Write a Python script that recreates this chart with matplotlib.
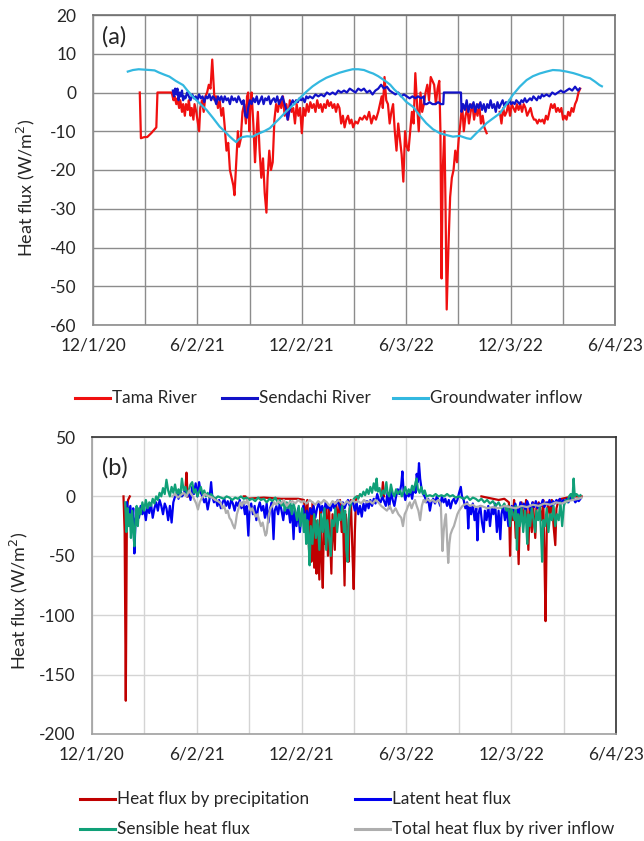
import numpy as np
import matplotlib
matplotlib.use("Agg")
import matplotlib.pyplot as plt
import matplotlib.dates as mdates
from matplotlib.lines import Line2D

plt.rcParams['font.family'] = ['Lato', 'DejaVu Sans']
plt.rcParams['axes.unicode_minus'] = False

nan = np.nan

# ---------------------------------------------------------------
# Data: days counted from 1 Dec 2020, heat flux in W/m2
# ---------------------------------------------------------------
START = np.datetime64('2020-12-01')

# (a) heat flux by river / groundwater inflow
tama_days = [82, 84, 90, 95, 102, 108, 111, 113, 138, 141, 143, 146, 148, 151, 153, 156, 158, 161, 163, 166,
             168, 171, 173, 176, 178, 181, 184, 186, 188, 191, 194, 197, 200, 203, 206, 209, 211, 213, 216, 219,
             222, 225, 228, 231, 234, 237, 240, 243, 246, 248, 251, 254, 256, 259, 262, 265, 268, 270, 272, 274,
             276, 278, 281, 284, 286, 289, 292, 295, 298, 301, 304, 306, 309, 312, 315, 318, 321, 324, 327, 330,
             333, 336, 339, 342, 345, 348, 351, 354, 357, 360, 363, 366, 369, 372, 375, 378, 381, 384, 387, 390,
             393, 396, 399, 402, 405, 408, 411, 414, 417, 420, 423, 426, 429, 432, 435, 438, 441, 444, 447, 450,
             453, 456, 460, 464, 468, 472, 476, 480, 484, 488, 492, 496, 500, 503, 506, 508, 511, 514, 517, 520,
             523, 526, 529, 532, 535, 538, 541, 544, 547, 550, 553, 556, 559, 562, 565, 568, 571, 574, 577, 580,
             583, 586, 589, 592, 595, 598, 601, 604, 607, 609, 611, 613, 616, 618, 620, 623, 626, 629, 632, 635,
             638, 641, 644, 647, 650, 653, 656, 659, 662, 665, 668, 671, 674, 677, 680, 683, 686, 690, 692, 713,
             716, 719, 722, 725, 728, 731, 734, 737, 740, 743, 746, 749, 752, 755, 758, 761, 764, 767, 770, 773,
             776, 779, 782, 785, 788, 791, 794, 797, 800, 803, 806, 809, 812, 815, 818, 821, 824, 827, 830, 833,
             836, 839, 842, 845, 848, 851, 854]
tama_flux = [0, -11.8, -11.5, -11.5, -10.5, -9.5, -9, 0, 0, -2, -1, -3, -1.5, -4, -2, -5, -3, -6, -3, -4.5,
             -2, -6, -4, -7, -3, -5, -8, -10, -4, -2, -5, -1, 0, 2, 1, 8.5, 3, -2, -1, -4,
             -2, -6, -4, -9, -15, -13, -20, -22, -24, -26.5, -18, -10, -14, -12, -5, -3, -8, -1, 0, -10,
             -3, 0, -8, -18, -12, -5, -15, -22, -17, -26, -31, -22, -15, -20, -18, -7, -3, -5, -2, -4,
             -1, -6, -3, -7, -2, -5, -4, -8, -3, -6, -4, -10.5, -4, -6, -3, -5, -2.5, -4, -3, -5,
             -2, -4, -3, -5, -3, -4, -2, -3.5, -2.5, -4, -3, -5, -3, -4, -8, -6, -9, -7, -6, -8,
             -7, -9, -7.5, -8, -6.5, -7, -6, -7, -5, -8, -6, -7, -5, -3, -1, -4, 4, -2, -3, -8,
             -5, -3, -10, -15, -8, -12, -16, -23, -10, -14, -15, -10, -5, -8, 5, -3, -10, 0, -5, -3,
             0, 2, -2, 4, 3, 2, -3, 1, 3, -10, -48, -20, -10, -30, -56, -40, -27, -22, -20, -15,
             -18, -12, -8, -3, -10, -6, -4, -8, -5, -3, -7, -4, -6, -3, -8, -6, -9, -10.5, nan, -5,
             -8, -4, -6, -5, -3, -6, -3, -4, -5, -3, -4.5, -3, -5, -3, -4, -6, -5, -4, -6, -7,
             -7, -8, -7, -7.5, -7, -8, -6, -7, -5, -3, -4, -3, -5, -4, -5, -4, -7, -6, -7, -5,
             -6, -4, -5, -3, -2, 0, 1]

sendachi_days = [140, 142, 144, 146, 148, 150, 152, 154, 156, 158, 160, 162, 165, 168, 171, 174, 177, 180, 183, 186,
                 189, 192, 195, 198, 201, 204, 207, 210, 213, 216, 219, 222, 225, 228, 231, 234, 237, 240, 243, 246,
                 249, 252, 255, 258, 261, 264, 267, 270, 272, 275, 278, 281, 284, 287, 290, 293, 296, 299, 302, 305,
                 308, 311, 314, 317, 320, 323, 326, 329, 332, 335, 338, 341, 344, 347, 350, 353, 356, 359, 362, 365,
                 368, 371, 374, 377, 380, 385, 390, 395, 400, 405, 410, 415, 420, 425, 430, 435, 440, 445, 450, 455,
                 460, 465, 470, 475, 480, 485, 490, 495, 500, 505, 510, 515, 520, 525, 530, 535, 540, 545, 550, 555,
                 560, 565, 570, 575, 580, 581, 585, 590, 595, 600, 605, 610, 614, 615, 645, 646, 649, 652, 655, 658,
                 661, 664, 667, 670, 673, 676, 679, 682, 685, 688, 691, 694, 697, 700, 703, 706, 709, 712, 715, 718,
                 721, 724, 727, 730, 733, 736, 739, 742, 745, 748, 751, 754, 757, 760, 763, 766, 769, 772, 775, 778,
                 781, 784, 787, 790, 795, 800, 805, 810, 815, 820, 825, 830, 835, 840, 845, 850, 853]
sendachi_flux = [0.5, -1, 1, -0.5, 1, -2, 0, -1, 0.5, -2, -1, -1.5, 0, -1, -2, -0.5, -1.5, -1, -2, -0.5,
                 -1.5, -1, -2.5, -1, -1.5, -0.5, -2, -1, -1.5, -3, -1, -2, -1, -2.5, -1, -2, -1.5, -3, -1, -2,
                 -1.5, -2.5, -1, -2, -3, -2, -6, -6.5, -4, -2, -3, -1.5, -2.5, -1, -3, -2, -1, -3, -1.5, -2,
                 -1, -3, -2, -1.5, -2.5, -1, -3, -2, -1, -2.5, -4, -7, -5, -3, -2, -3, -2, -2.5, -1.5, -2,
                 -1.5, -2.5, -1, -1.5, -1, -1.5, -0.5, -1, -0.5, -1, 0, -0.5, 0, -0.5, 0.5, 0, 0.5, 0, 1, 0.5,
                 0, 1, 0.5, 1, 0, 0.5, -0.5, 0.5, 1, 2, 1, 1.5, 0.5, 0, -0.5, 0, -1, -0.5, -1, -1.5,
                 -1, -1.5, -1, -1.5, -1, -3, -3, -2.5, -3, -3, -2.5, -3, -3, 0, 0, -5, -3, -4.5, -2, -5,
                 -3, -4, -2.5, -5, -3, -4, -2.5, -4.5, -3, -5, -3, -4, -2, -4, -3, -5, -2.5, -4, -3, -2,
                 -3.5, -2.5, -3, -2, -3, -2.5, -3, -2, -2.5, -3, -2, -2.5, -1.5, -2.5, -2, -1.5, -2, -1, -1.5, -2,
                 -1, -1.5, -0.5, -1, -0.5, -1, 0, -0.5, 0, 0.5, 0, 0.5, 1, 0.5, 1.5, 0.5, 1]

groundwater_days = [61, 70, 80, 90, 100, 108, 115, 125, 134, 145, 158, 165, 175, 187, 199, 210, 222, 232, 240, 246,
                    251, 256, 262, 270, 280, 287, 292, 300, 310, 318, 327, 340, 351, 362, 374, 385, 397, 409, 421, 432,
                    444, 455, 465, 475, 485, 491, 500, 507, 514, 521, 528, 538, 549, 561, 572, 584, 596, 608, 620, 631,
                    643, 655, 662, 672, 681, 690, 700, 713, 725, 736, 748, 760, 771, 783, 795, 806, 818, 830, 842, 853,
                    862, 871, 880, 888, 892]
groundwater_flux = [5.4, 5.8, 6.0, 5.9, 5.8, 5.7, 5.2, 4.6, 4.1, 3.0, 1.9, 0.6, -1.1, -2.8, -4.5, -6.5, -8.8, -10.2, -11.4, -12.2,
                    -12.8, -12.0, -11.5, -11.3, -11.4, -10.8, -10.5, -10.0, -9.2, -8.0, -6.7, -4.7, -3.2, -1.5, 0.2, 1.6, 2.8, 3.8, 4.5, 5.1,
                    5.6, 6.0, 6.0, 5.8, 5.2, 4.9, 4.2, 3.5, 2.8, 2.0, 0.8, -0.6, -2.4, -3.7, -5.8, -7.9, -9.5, -10.5, -11.0, -11.4,
                    -11.2, -11.8, -12.0, -10.5, -9.2, -7.9, -6.8, -5.4, -3.0, -0.6, 1.5, 3.2, 4.2, 4.9, 5.4, 5.8, 5.7, 5.4, 5.0, 4.5,
                    4.0, 3.7, 2.8, 1.9, 1.6]

# (b) components of the surface heat budget (NaN = no precipitation record)
precip_days = [55, 57, 59, 61, 63, 66, 67, 160, 163, 165, 167, 168, 262, 265, 268, 270, 300, 330, 360, 370,
               374, 376, 379, 381, 383, 385, 388, 390, 392, 394, 397, 399, 401, 403, 405, 407, 409, 412, 414, 418,
               420, 424, 426, 430, 433, 436, 438, 441, 443, 446, 448, 450, 452, 455, 457, 459, 461, 463, 466, 467,
               505, 506, 508, 510, 511, 678, 680, 690, 700, 710, 720, 728, 730, 732, 735, 737, 740, 742, 745, 747,
               750, 755, 758, 762, 764, 768, 770, 774, 776, 780, 785, 788, 790, 792, 794, 796, 800, 803, 806, 809,
               811, 815, 820, 830, 840, 855]
precip_flux = [0, -30, -172, -10, -3, 0, nan, nan, 5, 20, 0, nan, nan, 0, 0, -2, -1, -2, -2, -3,
               -20, -3, -45, -10, -55, -5, -60, -20, -65, -30, -70, -10, -50, -77, -20, -40, -5, -50, -10, -65,
               -15, -45, -5, -20, -3, -30, -10, -75, -15, -30, -55, -10, -3, -50, -78, -30, -3, 0, 0, nan,
               nan, 0, 12, 0, nan, nan, 0, -1, -2, -3, -2, -5, -50, -10, -20, -3, -35, -10, -57, -15,
               -5, -20, -3, -45, -10, -30, -5, -35, -10, -5, -20, -3, -50, -105, -30, -5, -15, -3, -25, -41,
               -10, -3, -2, -1, 0, 0]

latent_days = [61, 64, 67, 70, 72, 74, 76, 79, 82, 85, 88, 91, 94, 97, 100, 103, 106, 109, 112, 115,
               118, 121, 124, 127, 130, 133, 136, 139, 142, 145, 148, 151, 154, 157, 160, 163, 166, 169, 172, 175,
               178, 181, 184, 187, 190, 193, 196, 199, 202, 205, 208, 210, 213, 216, 219, 222, 225, 228, 231, 234,
               237, 240, 243, 246, 249, 252, 255, 258, 261, 264, 267, 270, 273, 275, 278, 281, 284, 287, 290, 293,
               296, 299, 302, 305, 308, 311, 314, 317, 319, 322, 325, 328, 331, 334, 337, 340, 343, 346, 349, 352,
               354, 357, 360, 363, 366, 369, 372, 375, 378, 381, 384, 387, 390, 393, 396, 399, 402, 405, 408, 411,
               414, 417, 420, 423, 426, 429, 432, 435, 438, 441, 444, 447, 450, 453, 456, 459, 462, 465, 468, 471,
               474, 477, 480, 483, 486, 489, 492, 495, 498, 501, 504, 507, 510, 513, 516, 519, 522, 525, 528, 531,
               534, 537, 540, 542, 544, 547, 550, 553, 556, 559, 562, 565, 567, 569, 571, 573, 575, 578, 581, 584,
               587, 590, 593, 596, 599, 602, 605, 608, 611, 614, 617, 620, 623, 626, 629, 632, 635, 638, 641, 644,
               646, 649, 652, 655, 657, 659, 662, 665, 668, 671, 673, 675, 678, 681, 684, 686, 689, 692, 695, 698,
               701, 704, 707, 710, 713, 715, 718, 721, 724, 727, 730, 733, 736, 739, 742, 745, 748, 751, 754, 757,
               760, 763, 766, 769, 772, 775, 778, 781, 784, 787, 790, 793, 796, 799, 802, 805, 808, 811, 814, 817,
               820, 823, 826, 829, 832, 835, 838, 841, 844, 847, 850, 853]
latent_flux = [-5, -15, -8, -25, -10, -48, -20, -12, -18, -8, -15, -10, -20, -8, -14, -6, -18, -10, -5, -12,
               -3, -8, -15, -6, -10, -20, -8, -22, -5, 0, 3, -2, 5, 0, 2, 7, 0, 4, -3, 8,
               2, 11, 0, 12, 3, 0, -5, -2, -11, -3, 12, 0, -5, -2, -8, -3, -10, -5, -2, -8,
               -4, -10, -3, -6, -12, -5, -8, -3, -10, -5, -15, -8, -33, -12, -6, -15, -8, -20, -10, -5,
               -12, -8, -18, -6, -22, -10, -5, -36, -12, -8, -15, -5, -12, -20, -8, -15, -10, -22, -8, -36,
               -12, -25, -10, -30, -15, -8, -25, -12, -20, -10, -15, -8, -18, -10, -5, -12, -8, -15, -5, -10,
               -8, -12, -5, -10, -7, -3, -8, -12, -5, -10, -6, -3, -8, -4, -6, -12, -5, -15, -8, -17,
               -6, -12, -4, -10, -3, -8, -2, -6, 2, -3, -5, 0, -4, -8, 3, -10, 5, -3, -8, 0,
               6, 2, 10, 21, 5, -3, 3, 0, 5, -2, 8, 3, 19, 12, 28, 15, 8, 2, 0, -5,
               -2, -12, -4, -2, -6, 0, -3, -8, 0, -5, -2, -8, -3, -10, -4, -2, -6, -3, 3, 8,
               0, -3, -10, -5, -27, -8, -15, -6, -20, -10, -37, -15, -8, -22, -30, -12, -20, -8, -25, -10,
               -15, -6, -30, -12, -36, -15, -8, -20, -10, -25, -20, -8, -12, -6, -10, -15, -5, -10, -6, -12,
               -4, -8, -12, -5, -9, -4, -10, -6, -8, -3, -9, -5, -7, -3, -8, -4, -6, -3, -5, -2,
               -6, -3, -4, -2, -5, -1, -3, -2, -5, -3, -4, -2]

sensible_days = [58, 60, 62, 64, 66, 68, 70, 72, 74, 76, 78, 80, 82, 85, 88, 91, 94, 97, 100, 103,
                 106, 109, 112, 115, 118, 121, 124, 127, 130, 133, 136, 139, 142, 145, 148, 151, 154, 157, 160, 163,
                 166, 169, 172, 175, 178, 181, 184, 187, 190, 193, 196, 199, 202, 205, 208, 211, 215, 220, 225, 230,
                 235, 240, 245, 250, 255, 260, 265, 270, 275, 280, 285, 290, 295, 300, 305, 310, 315, 320, 325, 328,
                 331, 334, 337, 340, 343, 346, 349, 352, 355, 358, 361, 364, 367, 370, 372, 374, 376, 378, 380, 382,
                 385, 388, 391, 394, 397, 400, 403, 406, 409, 411, 414, 417, 419, 422, 425, 428, 431, 434, 437, 440,
                 442, 444, 446, 448, 450, 453, 456, 459, 462, 465, 468, 471, 474, 477, 480, 483, 486, 489, 492, 495,
                 497, 499, 502, 505, 508, 511, 514, 516, 519, 522, 525, 528, 531, 534, 538, 541, 544, 547, 550, 553,
                 556, 559, 562, 565, 567, 569, 572, 575, 578, 581, 584, 590, 595, 600, 605, 610, 615, 620, 625, 630,
                 635, 640, 645, 650, 655, 660, 665, 670, 675, 680, 685, 690, 695, 700, 705, 710, 715, 720, 724, 727,
                 730, 732, 735, 738, 740, 742, 744, 747, 750, 753, 756, 758, 760, 762, 765, 768, 771, 774, 776, 779,
                 782, 784, 786, 788, 791, 794, 797, 800, 803, 806, 809, 812, 815, 818, 821, 824, 827, 830, 833, 836,
                 839, 841, 843, 846, 850, 853]
sensible_flux = [-5, -30, -10, -25, -15, -35, -12, -28, -42, -20, -8, -25, -10, -15, -5, -12, -3, -10, -5, -8,
                 -2, -6, 0, -3, 3, 0, 7, 2, 14, 5, 0, 8, 3, 10, 2, 6, 0, 15, 5, 8,
                 2, 5, 10, 12, 3, 6, 0, 4, 8, 2, 5, 0, 3, -1, 2, 0, -2, 0, -1, -2,
                 0, -1, -3, -1, -2, 0, -2, -1, -3, -2, -4, -1, -3, -2, -5, -2, -4, -1, -6, -3,
                 -8, -4, -12, -5, -10, -4, -15, -6, -12, -20, -8, -25, -10, -30, -15, -40, -20, -35, -58, -25,
                 -40, -15, -35, -20, -45, -15, -30, -10, -45, -20, -35, -50, -20, -25, -10, -30, -15, -20, -8, -30,
                 -12, -45, -55, -20, -10, -5, -3, -1, 0, -2, 2, 0, 4, 1, 6, 2, 8, 3, 11, 5,
                 15, 4, 7, 0, 5, 2, 12, 3, 0, 10, 3, 0, 6, 2, 5, 0, 4, 8, 2, 6,
                 3, 9, 5, 12, 15, 6, 3, 8, 2, 5, 0, 1, 0, 2, 0, 1, 0, 2, 0, 1,
                 -1, 0, -1, -2, 0, -3, -1, -2, -4, -2, -5, -3, -6, -4, -8, -5, -10, -6, -12, -8,
                 -25, -10, -15, -20, -8, -45, -15, -25, -10, -30, -12, -20, -40, -15, -25, -10, -20, -30, -12, -20,
                 -8, -30, -55, -20, -25, -10, -30, -15, -20, -8, -25, -15, -20, -5, -25, -8, -3, -5, 0, 2,
                 -2, 15, 0, 2, 0, 1]

river_days = [140, 145, 150, 155, 160, 165, 170, 173, 176, 179, 182, 185, 188, 191, 194, 197, 200, 205, 210, 215,
              220, 225, 228, 231, 234, 237, 240, 243, 246, 249, 251, 253, 256, 259, 262, 265, 268, 271, 274, 277,
              280, 283, 286, 289, 292, 295, 298, 301, 303, 305, 307, 309, 312, 315, 318, 321, 325, 330, 335, 340,
              345, 350, 355, 360, 365, 370, 375, 380, 385, 390, 395, 400, 405, 410, 415, 420, 425, 430, 435, 440,
              445, 450, 455, 460, 465, 470, 475, 480, 485, 490, 495, 500, 505, 510, 515, 520, 525, 530, 535, 540,
              543, 546, 549, 552, 555, 558, 561, 564, 567, 570, 573, 576, 579, 582, 585, 590, 595, 600, 605, 609,
              612, 614, 616, 618, 620, 622, 624, 626, 629, 632, 635, 638, 641, 644, 647, 650, 655, 660, 665, 670,
              680, 690, 700, 710, 720, 730, 740, 750, 760, 770, 780, 790, 800, 810, 820, 830, 840, 850, 855]
river_flux = [0, 2, -1, 1, 3, 0, 5, 2, 0, -3, -6, -11, -5, -2, 0, 2, 1, 0, -1, -3,
              -4, -6, -10, -8, -14, -12, -18, -20, -24, -27, -22, -15, -10, -5, -8, -4, -6, -3, -8, -12,
              -10, -14, -17, -15, -20, -25, -22, -29, -33, -31, -22, -15, -10, -8, -5, -7, -4, -6, -3, -8,
              -5, -4, -6, -3, -5, -4, -6, -3, -5, -7, -4, -6, -3, -5, -8, -4, -6, -3, -5, -7,
              -4, -6, -3, -5, -4, -6, -3, -5, -4, -6, -3, -5, -8, -10, -12, -8, -14, -10, -15, -18,
              -25, -15, -12, -8, -5, -10, -6, -3, -8, -12, -20, -8, -3, -5, -2, -4, -3, -5, -3, -6,
              -46, -30, -20, -15, -35, -56, -40, -32, -28, -25, -20, -15, -12, -10, -8, -7, -6, -8, -7, -9,
              -8, -10, -9, -10, -8, -9, -10, -8, -9, -7, -8, -6, -7, -5, -6, -4, -3, -2, -1]

# axis settings
tick_labels_every = 183          # days between labelled dates
grid_every = 91.5                # days between vertical grid lines
n_grid = 10

TEXT = '#262626'
FS = 12.5


def to_dates(days):
    return START + np.array(days, dtype='timedelta64[D]')


def style_axis(ax, ylim, ystep, grid_color, frame_dark, frame_light):
    x0 = mdates.date2num(START)
    ax.set_xlim(x0, x0 + n_grid * grid_every)
    ax.set_ylim(*ylim)
    ax.set_yticks(np.arange(ylim[0], ylim[1] + 0.1, ystep))
    major = [x0 + k * tick_labels_every for k in range(6)]
    minor = [x0 + k * grid_every for k in range(n_grid + 1)]
    ax.set_xticks(major)
    ax.set_xticklabels([f"{d.month}/{d.day}/{d.year % 100}" for d in mdates.num2date(major)])
    ax.set_xticks(minor, minor=True)
    ax.grid(True, which='both', axis='x', color=grid_color, lw=1.0)
    ax.grid(True, which='major', axis='y', color=grid_color, lw=1.0)
    ax.set_axisbelow(True)
    ax.tick_params(which='both', length=0, labelsize=FS, colors=TEXT)
    ax.tick_params(axis='x', pad=9)
    ax.tick_params(axis='y', pad=12)
    ax.spines['top'].set_color(frame_dark)
    ax.spines['right'].set_color(frame_dark)
    ax.spines['left'].set_color(frame_light)
    ax.spines['bottom'].set_color(frame_light)
    for s in ax.spines.values():
        s.set_linewidth(1.2)


W, H = 644, 841
fig = plt.figure(figsize=(W / 100, H / 100), dpi=100)


def fig_rect(left, top, right, bottom):
    return [left / W, 1 - bottom / H, (right - left) / W, (bottom - top) / H]


lw = 1.6

# ---------------- panel (a) ----------------
ax1 = fig.add_axes(fig_rect(93, 15, 615, 325))
ax1.plot(to_dates(tama_days), tama_flux, color='#F01010', lw=lw)
ax1.plot(to_dates(sendachi_days), sendachi_flux, color='#1212C8', lw=lw)
ax1.plot(to_dates(groundwater_days), groundwater_flux, color='#33B8E0', lw=lw)
style_axis(ax1, (-60, 20), 10, '#8C8C8C', '#707070', '#8C8C8C')
ax1.set_ylabel('Heat flux (W/m$^2$)', fontsize=13, color=TEXT)
ax1.yaxis.set_label_coords(-0.107, 0.442)
ax1.text(0.017, 0.93, '(a)', transform=ax1.transAxes, fontsize=17, va='center', ha='left', color=TEXT)

# ---------------- panel (b) ----------------
ax2 = fig.add_axes(fig_rect(92, 437, 616, 734))
ax2.plot(to_dates(precip_days), precip_flux, color='#C00000', lw=lw)
ax2.plot(to_dates(latent_days), latent_flux, color='#0000F0', lw=lw)
ax2.plot(to_dates(sensible_days), sensible_flux, color='#10A078', lw=lw)
ax2.plot(to_dates(river_days), river_flux, color='#AEAEAE', lw=lw)
style_axis(ax2, (-200, 50), 50, '#D4D4D4', '#303030', '#A0A0A0')
ax2.set_ylabel('Heat flux (W/m$^2$)', fontsize=13, color=TEXT)
ax2.yaxis.set_label_coords(-0.118, 0.448)
ax2.text(0.02, 0.896, '(b)', transform=ax2.transAxes, fontsize=17, va='center', ha='left', color=TEXT)


# ---------------- legends ----------------
def legend_item(x_line, y, color, label):
    fig.add_artist(Line2D([x_line / W, (x_line + 35) / W], [1 - y / H, 1 - y / H],
                          transform=fig.transFigure, color=color, lw=2.2))
    fig.text((x_line + 37) / W, 1 - y / H, label, fontsize=12.3, va='center', ha='left', color=TEXT)


legend_item(75, 398, '#F01010', 'Tama River')
legend_item(222, 398, '#1212C8', 'Sendachi River')
legend_item(393, 398, '#33B8E0', 'Groundwater inflow')

legend_item(80, 799, '#C00000', 'Heat flux by precipitation')
legend_item(355, 799, '#0000F0', 'Latent heat flux')
legend_item(80, 829, '#10A078', 'Sensible heat flux')
legend_item(355, 829, '#AEAEAE', 'Total heat flux by river inflow')

fig.savefig('out.png', dpi=100)
